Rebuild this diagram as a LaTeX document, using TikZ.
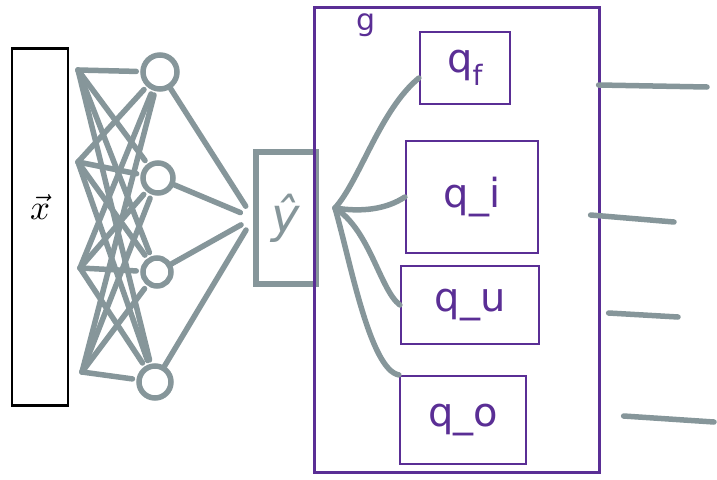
\documentclass[tikz,border=0pt]{standalone}
\usepackage{graphicx}
\usepackage{fontspec}
\setmainfont{DejaVu Sans}
\definecolor{nngray}{HTML}{86969A}
\definecolor{gpurple}{HTML}{5A2E95}
\begin{document}
\begin{tikzpicture}[x=1pt,y=-1pt,
  wire/.style={draw=nngray,line width=5.5pt,line cap=round},
  neuron/.style={circle,draw=nngray,line width=5.5pt,minimum size=#1},
  gbox/.style={draw=gpurple,line width=2.2pt,rectangle,inner sep=0pt,text=gpurple,font=\fontsize{40}{44}\selectfont},
  outl/.style={draw=nngray,line width=5.5pt,line cap=round}]
\useasboundingbox (0,0) rectangle (717,479);
\clip (0,0) rectangle (717,479);
% input bar
\node[draw=black,line width=2.5pt,minimum width=56pt,minimum height=357pt,inner sep=0pt] (xin) at (40,227) {\raisebox{40pt}{\scalebox{3.5}{$\vec{x}$}}};
% input ends
\coordinate (i1) at (78,70);
\coordinate (i2) at (78,162);
\coordinate (i3) at (80,268);
\coordinate (i4) at (82,372);
% neurons
\node[neuron=34pt] (n1) at (160,72) {};
\node[neuron=30pt] (n2) at (158,178) {};
\node[neuron=28pt] (n3) at (157,272) {};
\node[neuron=32pt] (n4) at (155,382) {};
\foreach \i in {1,2,3,4}{
  \foreach \n in {1,2,3,4}{
    \draw[wire,shorten >=4pt] (i\i) -- (n\n);
  }
}
% yhat box
\node[draw=nngray,line width=5.5pt,minimum width=60pt,minimum height=132pt,inner sep=0pt,text=nngray,font=\fontsize{48}{52}\selectfont\itshape] (yh) at (286,218) {\raisebox{6pt}{ŷ}};
\foreach \n in {1,2,3,4}{
  \draw[wire,shorten >=14pt] (n\n) -- (yh.west);
}
% g box
\node[gbox,minimum width=285pt,minimum height=465pt] (g) at (457,240) {};
\node[text=gpurple,font=\fontsize{30}{34}\selectfont,anchor=north,inner sep=1pt] (glab) at (366,12) {g};
% inner boxes
\node[gbox,minimum width=90pt,minimum height=72pt] (qf) at (465,68) {q\textsubscript{f}};
\node[gbox,minimum width=132pt,minimum height=112pt] (qi) at (472,197) {\raisebox{-8pt}{q\_i}};
\node[gbox,minimum width=138pt,minimum height=78pt] (qu) at (470,305) {q\_u};
\node[gbox,minimum width=126pt,minimum height=88pt] (qo) at (463,420) {q\_o};
% curves from yhat
\coordinate (ys) at (335,208);
\draw[wire] (ys) .. controls (360,180) and (380,110) .. (qf.west |- 0,78);
\draw[wire] (ys) .. controls (360,212) and (385,210) .. (qi.west);
\draw[wire] (ys) .. controls (370,230) and (380,290) .. (qu.west);
\draw[wire] (ys) .. controls (350,260) and (370,370) .. (qo.north west);
% outputs
\coordinate (o1) at (707,87);
\coordinate (o2) at (674,222);
\coordinate (o3) at (678,317);
\coordinate (o4) at (714,422);
\draw[outl] (g.east |- 0,85) ++(-2,0) -- (o1);
\draw[outl] (g.east |- 0,215) ++(-10,0) -- (o2);
\draw[outl] (g.east |- 0,313) ++(8,0) -- (o3);
\draw[outl] (g.east |- 0,416) ++(23,0) -- (o4);
\end{tikzpicture}
\end{document}
